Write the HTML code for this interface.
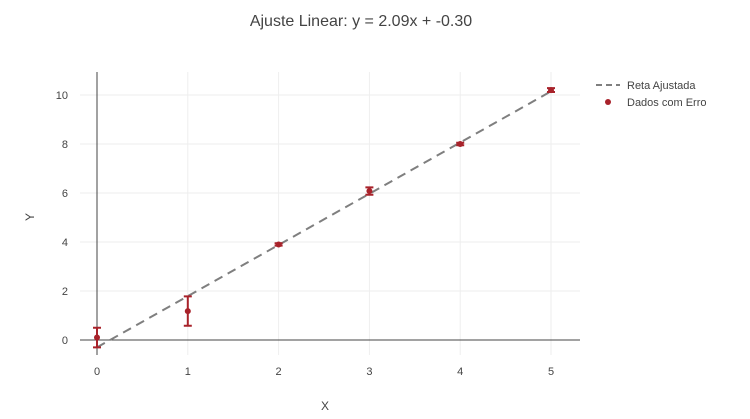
<!DOCTYPE html>
<html><head><meta charset="utf-8"><style>
body{margin:0;background:#fff;font-family:"Liberation Sans",sans-serif;}
svg text{font-family:"Liberation Sans",sans-serif;fill:#444;}
</style></head><body>
<svg id="chart" width="750" height="414" xmlns="http://www.w3.org/2000/svg">
<text x="361" y="26" text-anchor="middle" font-size="16">Ajuste Linear: y = 2.09x + -0.30</text>
<g id="grid"></g><g id="axes"></g><g id="marks"></g>
<text x="325" y="410" text-anchor="middle" font-size="12">X</text>
<text x="34" y="217" text-anchor="middle" font-size="12" transform="rotate(-90 34 217)">Y</text>
<g>
<line x1="596" y1="85" x2="620" y2="85" stroke="#7f7f7f" stroke-width="2" stroke-dasharray="6,4"/>
<text x="627" y="89" font-size="11">Reta Ajustada</text>
<circle cx="608" cy="102" r="3" fill="#a8222a"/>
<text x="627" y="106" font-size="11">Dados com Erro</text>
</g>
</svg>
<script>
const xs=[0,1,2,3,4,5];
const ys=[0.1,1.18,3.9,6.08,8.0,10.2];
const errs=[0.4,0.6,0.05,0.15,0.05,0.08];
const slope=2.09, intercept=-0.30;
const xTicks=[0,1,2,3,4,5];
const yTicks=[0,2,4,6,8,10];
const ns="http://www.w3.org/2000/svg";
const X=v=>97+v*90.8, Y=v=>340-v*24.5;
const L=80,R=580,T=72,B=355;
function mk(t,a,p){const e=document.createElementNS(ns,t);for(const k in a)e.setAttribute(k,a[k]);p.appendChild(e);return e;}
const g=document.getElementById('grid'),ax=document.getElementById('axes'),m=document.getElementById('marks');
xTicks.forEach(t=>{
 const l=mk('line',{x1:X(t),x2:X(t),y1:T,y2:B,stroke:t===0?'#444':'#eee','stroke-width':1},t===0?ax:g);
 
 
 const tx=mk('text',{x:X(t),y:375,'text-anchor':'middle','font-size':11},ax);tx.textContent=t;
 
 
});
yTicks.forEach(t=>{
 const l=mk('line',{x1:L,x2:R,y1:Y(t),y2:Y(t),stroke:t===0?'#444':'#eee','stroke-width':1},t===0?ax:g);
 
 
 const tx=mk('text',{x:68,y:Y(t)+4,'text-anchor':'end','font-size':11},ax);tx.textContent=t;
 
 
});
const fl=mk('line',{x1:X(xs[0]),y1:Y(slope*xs[0]+intercept),x2:X(xs[xs.length-1]),y2:Y(slope*xs[xs.length-1]+intercept),stroke:'#7f7f7f','stroke-width':2,'stroke-dasharray':'9,6'},m);


xs.forEach((x,i)=>{
 const cx=X(x),t=Y(ys[i]+errs[i]),b=Y(ys[i]-errs[i]);
 const eb=mk('path',{d:`M${cx},${t}V${b}M${cx-4},${t}H${cx+4}M${cx-4},${b}H${cx+4}`,stroke:'#a8222a','stroke-width':2,fill:'none'},m);
 
 
 const c=mk('circle',{cx:cx,cy:Y(ys[i]),r:3,fill:'#a8222a'},m);
 
 
});
</script>
</body></html>
